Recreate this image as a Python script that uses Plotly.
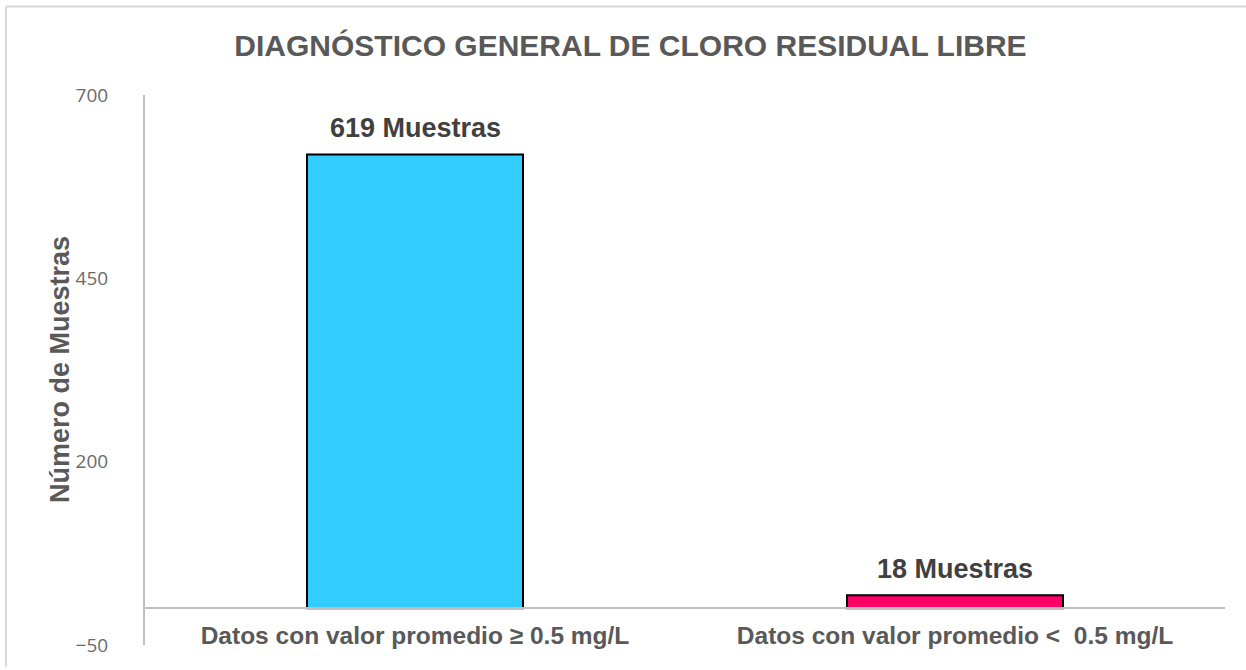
import plotly.graph_objects as go

categories = ["Datos con valor promedio ≥ 0.5 mg/L", "Datos con valor promedio <  0.5 mg/L"]
values = [619, 18]
bar_colors = ["#33CCFF", "#FF0066"]
label_suffix = " Muestras"
title_text = "DIAGNÓSTICO GENERAL DE CLORO RESIDUAL LIBRE"
y_title = "Número de Muestras"
y_ticks = [-50, 200, 450, 700]

W, H = 1246, 670
L, R, T, B = 145, 21, 95, 22
y_min, y_max = -50, 700

fig = go.Figure()
fig.add_trace(go.Bar(
    x=categories, y=values,
    marker=dict(color=bar_colors, line=dict(color="#000000", width=2)),
    width=0.4,
    hoverinfo="skip",
))

for c, v in zip(categories, values):
    fig.add_annotation(
        x=c, y=v, xref="x", yref="y",
        text=f"<b>{v}{label_suffix}</b>", showarrow=False,
        yanchor="bottom", yshift=9,
        font=dict(family="Liberation Sans, Arial", size=27, color="#404040"),
    )

fig.add_annotation(
    x=0, y=0.5, xref="paper", yref="paper", xshift=-85,
    text=f"<b>{y_title}</b>", textangle=-90, showarrow=False,
    xanchor="center", yanchor="middle",
    font=dict(family="Liberation Sans, Arial", size=27, color="#595959"),
)

# light frame around the chart area
ph = H - T - B
pw = W - L - R
def px2x(px):
    return (px - L) / pw
def py2y(py):
    return (H - B - py) / ph
fig.add_shape(type="line", xref="paper", yref="paper",
              x0=px2x(6), x1=px2x(1246), y0=py2y(6), y1=py2y(6),
              line=dict(color="#d9d9d9", width=2))
fig.add_shape(type="line", xref="paper", yref="paper",
              x0=px2x(6), x1=px2x(6), y0=py2y(6), y1=py2y(670),
              line=dict(color="#d9d9d9", width=2))

fig.update_layout(
    width=W, height=H,
    margin=dict(l=L, r=R, t=T, b=B),
    paper_bgcolor="white", plot_bgcolor="white",
    showlegend=False,
    title=dict(
        text=f"<b>{title_text}</b>", xref="container", x=0.506, xanchor="center",
        yref="container", y=1 - 45 / H, yanchor="middle",
        font=dict(family="Liberation Sans, Arial", size=30, color="#595959"),
    ),
    bargap=0.6,
    xaxis=dict(
        anchor="free", position=(0 - y_min) / (y_max - y_min),
        showline=True, linecolor="#bfbfbf", linewidth=2,
        showgrid=False, zeroline=False, ticks="",
        ticklabelstandoff=5,
        tickfont=dict(family="Liberation Sans, Arial", size=24.5, color="#595959"),
        tickprefix="<b>", ticksuffix="</b>",
    ),
    yaxis=dict(
        range=[y_min, y_max], tickvals=y_ticks,
        showline=True, linecolor="#bfbfbf", linewidth=2,
        showgrid=False, zeroline=False, ticks="",
        ticklabelstandoff=31,
        tickfont=dict(family="Open Sans", size=19, color="#6b6b6b"),
    ),
)

fig.write_html(
    "out.html",
    config={"displayModeBar": False},
    post_script="document.body.style.margin='0';document.body.style.overflow='hidden';",
)
